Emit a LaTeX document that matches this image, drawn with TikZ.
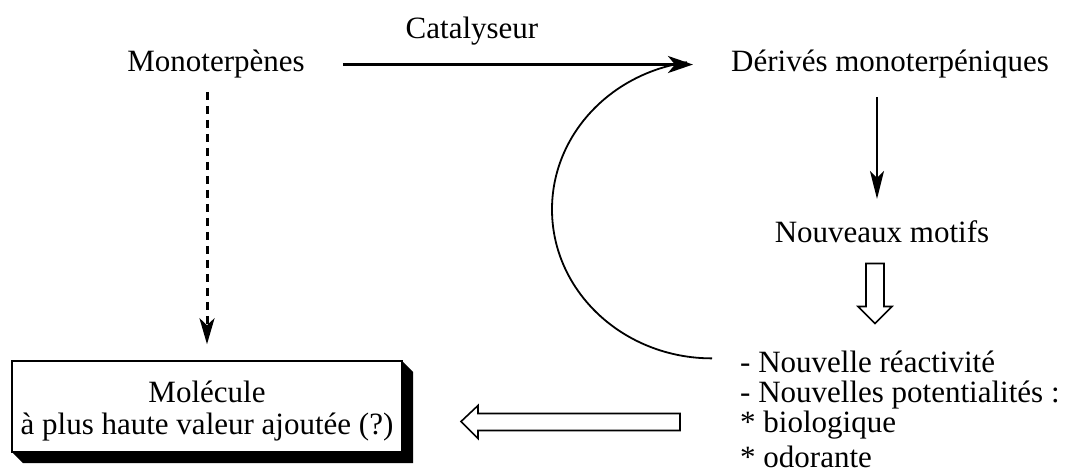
\documentclass[tikz,border=0pt]{standalone}
\usepackage{fontspec}
\setmainfont{Liberation Serif}
\usetikzlibrary{arrows.meta}
\begin{document}
\begin{tikzpicture}[x=1pt,y=-1pt,
  lbl/.style={inner sep=0pt, font=\fontsize{31}{32}\selectfont},
  mainconn/.style={line width=3pt, -{Stealth[length=25pt,width=17pt,inset=7pt]}},
  dashconn/.style={line width=3pt, dash pattern=on 8pt off 6pt, -{Stealth[length=26pt,width=15pt,inset=7pt]}},
  thinconn/.style={line width=2.2pt, -{Stealth[length=28pt,width=14pt,inset=7pt]}},
  arcconn/.style={line width=1.8pt},
  hollow/.style={draw, line width=1.6pt, fill=white, line join=miter},
  boxstyle/.style={draw, fill=white, line width=1.5pt, minimum width=390pt, minimum height=91pt, align=center}
]
\useasboundingbox (0,0) rectangle (1069,473);

% text nodes
\node[lbl, anchor=base] (cat) at (472,39) {Catalyseur};
\node[lbl, anchor=base] (mono) at (216,72) {Monoterpènes};
\node[lbl, anchor=base] (deriv) at (890,72) {Dérivés monoterpéniques};
\node[lbl, anchor=base] (motifs) at (882,243) {Nouveaux motifs};
\node[lbl, anchor=base west] (l1) at (740,372) {- Nouvelle réactivité};
\node[lbl, anchor=base west] (l2) at (740,402) {- Nouvelles potentialités :};
\node[lbl, anchor=base west] (l3) at (740,432) {* biologique};
\node[lbl, anchor=base west] (l4) at (740,467) {* odorante};

% shadowed box
\fill (402,361) -- (413,372) -- (413,463) -- (23,463) -- (12,452) -- cycle;
\node[lbl, boxstyle] (box) at (207,406.5) {\rule{0pt}{29.8pt}Molécule\\à plus haute valeur ajoutée (?)};

% Monoterpenes -> Derives
\draw[mainconn] ([xshift=38pt]mono.east) -- ([xshift=-38pt]deriv.west);

% dashed Monoterpenes -> box
\coordinate (dtop) at (box.north |- mono.south);
\draw[dashconn] (dtop) ++(0,13) -- ([yshift=16pt]box.north);

% Derives -> Nouveaux motifs
\path (deriv.south -| motifs.north) ++(-5,18) coordinate (a1);
\path (motifs.north) ++(-5,-22) coordinate (a2);
\draw[thinconn] (a1) -- (a2);

% hollow down arrow
\path (motifs.south) ++(-16,20) coordinate (hd);
\draw[hollow] (hd) -- ++(18,0) -- ++(0,43) -- ++(8,0) -- ++(-17,17) -- ++(-17,-17) -- ++(8,0) -- cycle;

% hollow left arrow
\path (l2.west) ++(-60,19) coordinate (hl);
\draw[hollow] (hl) -- ++(0,17) -- ++(-202,0) -- ++(0,8) -- ++(-17,-17) -- ++(17,-16) -- ++(0,8) -- cycle;

% curved feedback arrow
\draw[arcconn] (l1.west) ++(-28,-3) arc[start angle=90, end angle=261, x radius=160, y radius=149];
\end{tikzpicture}
\end{document}
